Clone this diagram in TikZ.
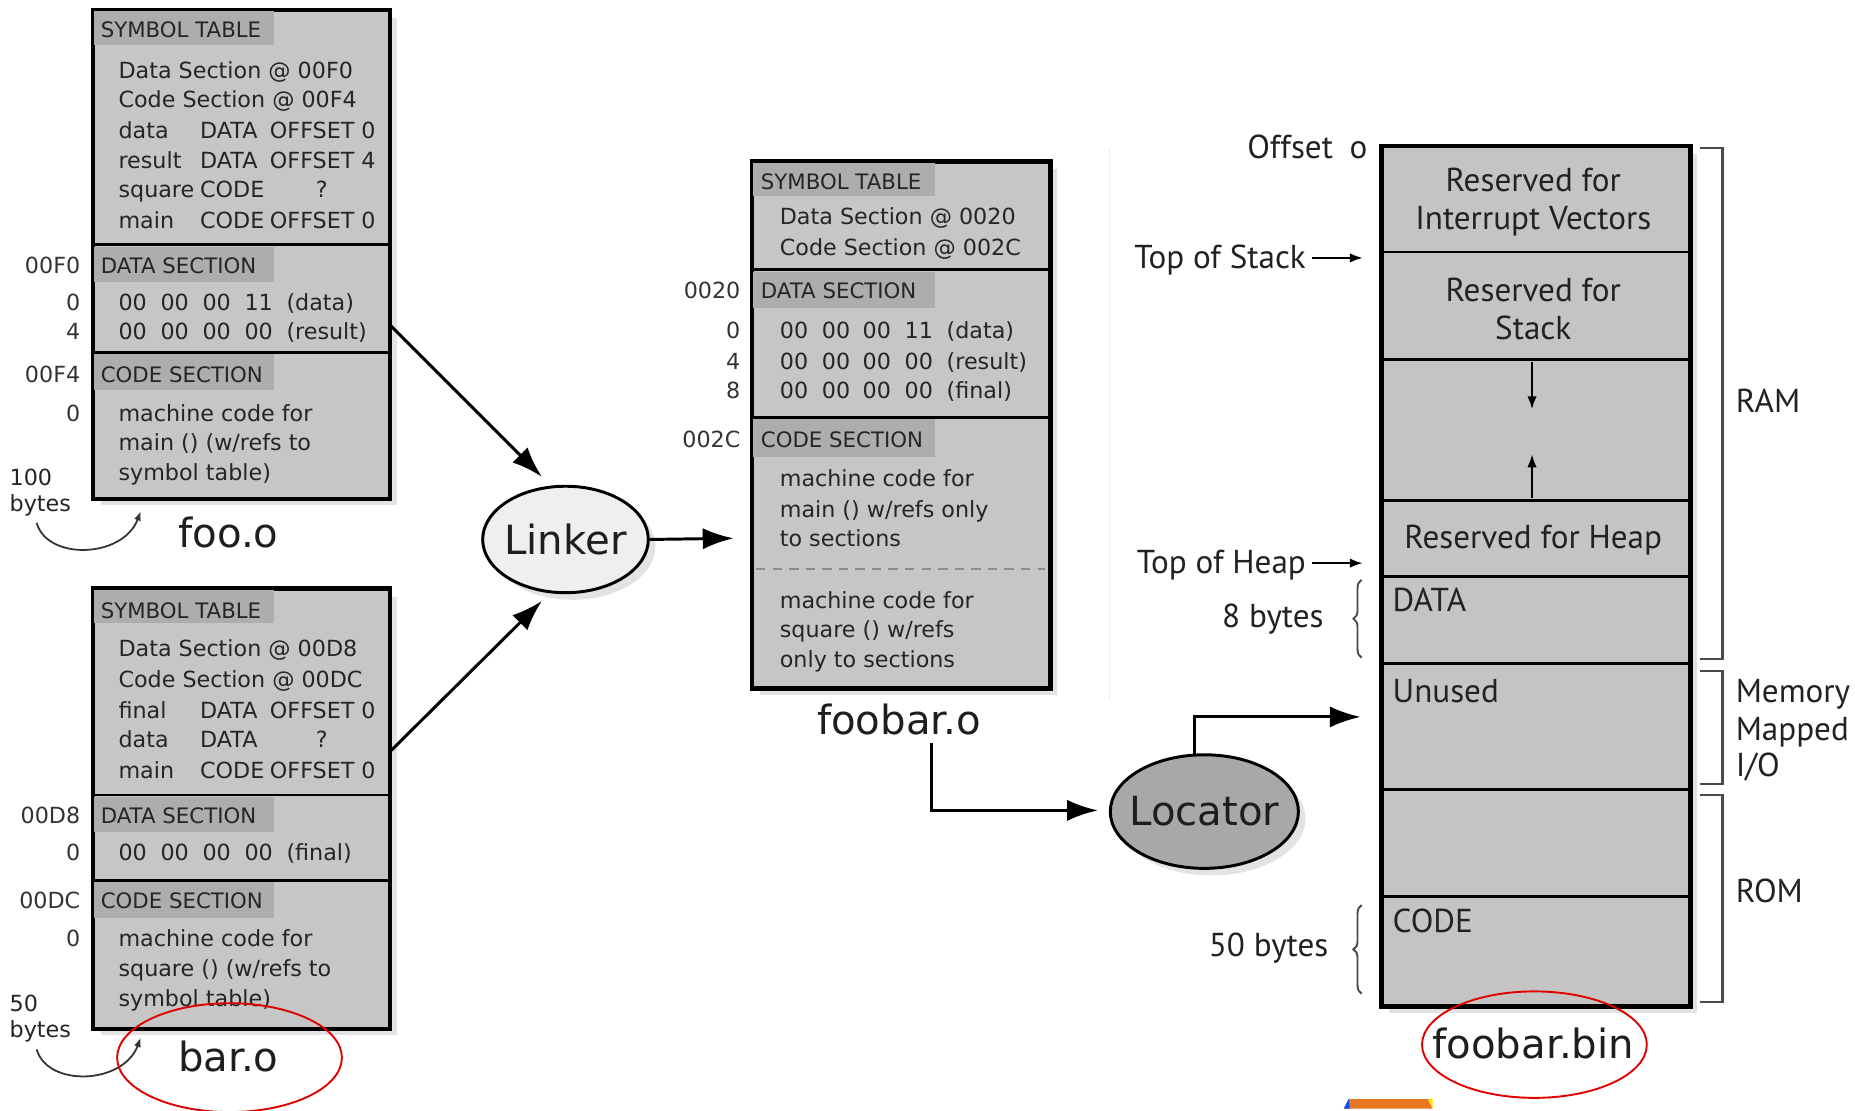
\documentclass[tikz,border=0pt]{standalone}
\usepackage{fontspec}
\setmainfont{DejaVu Sans}
\newfontfamily\ptsans{PT Sans}
\usetikzlibrary{shapes.geometric,arrows.meta,shadows,decorations.pathreplacing}
\definecolor{boxgray}{HTML}{C6C6C6}
\definecolor{bandgray}{HTML}{ADADAD}
\definecolor{bingray}{HTML}{C4C4C4}
\definecolor{linkfill}{HTML}{EFEFEF}
\definecolor{locfill}{HTML}{A8A8A8}
\definecolor{txtgray}{HTML}{252525}
\definecolor{lblgray}{HTML}{333333}
\definecolor{bigtxt}{HTML}{1E1E1E}
\definecolor{bintxt}{HTML}{222222}
\definecolor{curvegray}{HTML}{333333}
\definecolor{brgray}{HTML}{4A4A4A}
\definecolor{redmark}{HTML}{E00000}
\definecolor{orangebar}{HTML}{E87722}
\begin{document}
\begin{tikzpicture}[x=1pt,y=-1pt,
  objbox/.style={draw=black,line width=2.5pt,fill=boxgray,inner sep=0pt,anchor=north west,
    drop shadow={shadow xshift=6pt,shadow yshift=-6pt,opacity=0.22}},
  ellbox/.style={ellipse,draw=black,line width=2.5pt,inner sep=0pt,
    drop shadow={shadow xshift=6pt,shadow yshift=-6pt,opacity=0.22}},
  divline/.style={line width=2.5pt,draw=black},
  bandfill/.style={fill=bandgray},
  tx/.style={inner sep=0pt,anchor=west,yshift=-4.5pt,text height=0.72em,text depth=0.2em,text=txtgray,font=\fontsize{18.8}{22}\selectfont},
  hd/.style={tx,font=\fontsize{18}{21}\selectfont},
  lb/.style={tx,anchor=east,text=lblgray},
  biglbl/.style={inner sep=0pt,text=bigtxt,font=\fontsize{34}{40}\selectfont},
  bt/.style={inner sep=0pt,yshift=-6pt,text height=0.72em,text depth=0.2em,text=bintxt,font=\ptsans\fontsize{28}{32}\selectfont},
  arr/.style={line width=2.5pt,-{Latex[length=26pt,width=18pt]}},
  sarr/.style={line width=1.8pt,-{Latex[length=11pt,width=8pt]}},
  curv/.style={line width=1.5pt,draw=curvegray,-{Latex[length=8pt,width=6pt]}},
  bracket/.style={line width=1.8pt,draw=brgray},
  bracestyle/.style={line width=1.6pt,draw=brgray,decorate,decoration={brace,amplitude=7pt}},
  redring/.style={draw=redmark,line width=1.6pt,ellipse,inner sep=0pt},
]
\useasboundingbox (0,0) rectangle (1568,939);
\fill[white] (0,0) rectangle (1568,939);

% faint vertical line
\draw[black!8,line width=1pt] (938,125) -- (938,592);

%================ foo.o =================
\node[objbox,minimum width=250pt,minimum height=412pt] (foo) at (78,8) {};
\fill[bandfill] (79.5,9.5) rectangle (232,38);
\fill[bandfill] (79.5,208.5) rectangle (232,238);
\fill[bandfill] (79.5,299.5) rectangle (232,330);
\draw[divline] (78,207) -- (328,207) (78,298) -- (328,298);
\draw[divline] (foo.north west) rectangle (foo.south east);
\node[hd] (fooh1) at (85,25) {SYMBOL TABLE};
\node[tx] (foos1) at (100,59) {Data Section @ 00F0};
\node[tx] (foos2) at (100,84) {Code Section @ 00F4};
\node[tx] (foos3a) at (100,110) {data};   \node[tx] (foos3b) at (169,110) {DATA}; \node[tx] (foos3c) at (228,110) {OFFSET 0};
\node[tx] (foos4a) at (100,135) {result}; \node[tx] (foos4b) at (169,135) {DATA}; \node[tx] (foos4c) at (228,135) {OFFSET 4};
\node[tx] (foos5a) at (100,160) {square}; \node[tx] (foos5b) at (169,160) {CODE}; \node[tx,anchor=center] (foos5c) at (272,160) {?};
\node[tx] (foos6a) at (100,186) {main};   \node[tx] (foos6b) at (169,186) {CODE}; \node[tx] (foos6c) at (228,186) {OFFSET 0};
\node[hd] (fooh2) at (85,224) {DATA SECTION};
\node[tx] (food1a) at (100,255) {00}; \node[tx] (food1b) at (135.5,255) {00}; \node[tx] (food1c) at (171,255) {00}; \node[tx] (food1d) at (206.5,255) {11}; \node[tx] (food1e) at (242,255) {(data)};
\node[tx] (food2a) at (100,280) {00}; \node[tx] (food2b) at (135.5,280) {00}; \node[tx] (food2c) at (171,280) {00}; \node[tx] (food2d) at (206.5,280) {00}; \node[tx] (food2e) at (242,280) {(result)};
\node[hd] (fooh3) at (85,316) {CODE SECTION};
\node[tx] (fooc1) at (100,349) {machine code for};
\node[tx] (fooc2) at (100,374) {main () (w/refs to};
\node[tx] (fooc3) at (100,399) {symbol table)};
\node[lb] (fool1) at (68,224) {00F0};
\node[lb] (fool2) at (68,255) {0};
\node[lb] (fool3) at (68,280) {4};
\node[lb] (fool4) at (68,316) {00F4};
\node[lb] (fool5) at (68,349) {0};
\node[tx] (foosz1) at (8,403) {100};
\node[tx] (foosz2) at (8,425) {bytes};
\coordinate (foocs) at (31,442);
\coordinate (fooce) at (119,432);
\draw[curv] (foocs) .. controls (40,474) and (104,472) .. (fooce);
\node[biglbl] (foolbl) at (193,450) {foo.o};

%================ bar.o =================
\node[objbox,minimum width=250pt,minimum height=371pt] (bar) at (78,497) {};
\fill[bandfill] (79.5,498.5) rectangle (232,527);
\fill[bandfill] (79.5,673.5) rectangle (232,703);
\fill[bandfill] (79.5,745.5) rectangle (232,776);
\draw[divline] (78,672) -- (328,672) (78,744) -- (328,744);
\draw[divline] (bar.north west) rectangle (bar.south east);
\node[hd] (barh1) at (85,516) {SYMBOL TABLE};
\node[tx] (bars1) at (100,548) {Data Section @ 00D8};
\node[tx] (bars2) at (100,574) {Code Section @ 00DC};
\node[tx] (bars3a) at (100,600) {final}; \node[tx] (bars3b) at (169,600) {DATA}; \node[tx] (bars3c) at (228,600) {OFFSET 0};
\node[tx] (bars4a) at (100,625) {data};  \node[tx] (bars4b) at (169,625) {DATA}; \node[tx,anchor=center] (bars4c) at (272,625) {?};
\node[tx] (bars5a) at (100,651) {main};  \node[tx] (bars5b) at (169,651) {CODE}; \node[tx] (bars5c) at (228,651) {OFFSET 0};
\node[hd] (barh2) at (85,689) {DATA SECTION};
\node[tx] (bard1a) at (100,720) {00}; \node[tx] (bard1b) at (135.5,720) {00}; \node[tx] (bard1c) at (171,720) {00}; \node[tx] (bard1d) at (206.5,720) {00}; \node[tx] (bard1e) at (242,720) {(final)};
\node[hd] (barh3) at (85,761) {CODE SECTION};
\node[tx] (barc1) at (100,793) {machine code for};
\node[tx] (barc2) at (100,818) {square () (w/refs to};
\node[tx] (barc3) at (100,844) {symbol table)};
\node[lb] (barl1) at (68,689) {00D8};
\node[lb] (barl2) at (68,720) {0};
\node[lb] (barl3) at (68,761) {00DC};
\node[lb] (barl4) at (68,793) {0};
\node[tx] (barsz1) at (8,848) {50};
\node[tx] (barsz2) at (8,870) {bytes};
\coordinate (barcs) at (31,887);
\coordinate (barce) at (119,877);
\draw[curv] (barcs) .. controls (40,919) and (104,917) .. (barce);
\node[biglbl] (barlbl) at (193,893) {bar.o};
\node[redring,minimum width=190pt,minimum height=92pt] (barring) at (194,894) {};

%================ Linker =================
\node[ellbox,fill=linkfill,minimum width=140pt,minimum height=90pt] (linker) at (478,456) {};
\node[biglbl] (linkertxt) at (linker.center) {Linker};
\coordinate (fooout) at (330,275);
\coordinate (barout) at (330,635);
\coordinate (linkin1) at (458,403);
\coordinate (linkin2) at (458,508);
\coordinate (fbin) at (620,455);
\draw[arr] (fooout) -- (linkin1);
\draw[arr] (barout) -- (linkin2);
\draw[arr] (linker.east) -- (fbin);

%================ foobar.o =================
\node[objbox,minimum width=251pt,minimum height=444pt] (fbo) at (635,136) {};
\fill[bandfill] (636.5,137.5) rectangle (790,166);
\fill[bandfill] (636.5,229.5) rectangle (790,260);
\fill[bandfill] (636.5,354.5) rectangle (790,386);
\draw[divline] (635,228) -- (886,228) (635,353) -- (886,353);
\draw[black!45,line width=1.5pt,dash pattern=on 8pt off 6pt] (639,481) -- (883,481);
\draw[divline] (fbo.north west) rectangle (fbo.south east);
\node[hd] (fboh1) at (643,153) {SYMBOL TABLE};
\node[tx] (fbos1) at (659,183) {Data Section @ 0020};
\node[tx] (fbos2) at (659,209) {Code Section @ 002C};
\node[hd] (fboh2) at (643,245) {DATA SECTION};
\node[tx] (fbod1a) at (659,279) {00}; \node[tx] (fbod1b) at (694.5,279) {00}; \node[tx] (fbod1c) at (729,279) {00}; \node[tx] (fbod1d) at (764.5,279) {11}; \node[tx] (fbod1e) at (800,279) {(data)};
\node[tx] (fbod2a) at (659,305) {00}; \node[tx] (fbod2b) at (694.5,305) {00}; \node[tx] (fbod2c) at (729,305) {00}; \node[tx] (fbod2d) at (764.5,305) {00}; \node[tx] (fbod2e) at (800,305) {(result)};
\node[tx] (fbod3a) at (659,330) {00}; \node[tx] (fbod3b) at (694.5,330) {00}; \node[tx] (fbod3c) at (729,330) {00}; \node[tx] (fbod3d) at (764.5,330) {00}; \node[tx] (fbod3e) at (800,330) {(final)};
\node[hd] (fboh3) at (643,371) {CODE SECTION};
\node[tx] (fboc1) at (659,404) {machine code for};
\node[tx] (fboc2) at (659,430) {main () w/refs only};
\node[tx] (fboc3) at (659,455) {to sections};
\node[tx] (fboc4) at (659,507) {machine code for};
\node[tx] (fboc5) at (659,532) {square () w/refs};
\node[tx] (fboc6) at (659,557) {only to sections};
\node[lb] (fbol1) at (626,245) {0020};
\node[lb] (fbol2) at (626,279) {0};
\node[lb] (fbol3) at (626,305) {4};
\node[lb] (fbol4) at (626,330) {8};
\node[lb] (fbol5) at (626,371) {002C};
\node[biglbl] (fbolbl) at (760,608) {foobar.o};

%================ Locator =================
\node[ellbox,fill=locfill,minimum width=159pt,minimum height=96pt] (locator) at (1018,686) {};
\node[biglbl] (locatortxt) at (locator.center) {Locator};
\coordinate (fbodown) at (787,628);
\coordinate (locin) at (928,685);
\coordinate (locup) at (1010,638);
\coordinate (binin) at (1150,606);
\draw[arr] (fbodown) |- (locin);
\draw[arr] (locup) |- (binin);

%================ foobar.bin =================
\node[objbox,fill=bingray,minimum width=260pt,minimum height=726pt] (bin) at (1167,123) {};
\draw[divline] (1167,213) -- (1427,213) (1167,304) -- (1427,304) (1167,423) -- (1427,423)
  (1167,487) -- (1427,487) (1167,561) -- (1427,561) (1167,667) -- (1427,667) (1167,758) -- (1427,758);
\draw[divline] (bin.north west) rectangle (bin.south east);
\node[bt] (bin1a) at (1296,153) {Reserved for};
\node[bt] (bin1b) at (1296,185) {Interrupt Vectors};
\node[bt] (bin2a) at (1296,246) {Reserved for};
\node[bt] (bin2b) at (1296,278) {Stack};
\coordinate (stk1) at (1295,306);
\coordinate (stk2) at (1295,346);
\coordinate (hp1) at (1295,421);
\coordinate (hp2) at (1295,384);
\draw[sarr] (stk1) -- (stk2);
\draw[sarr] (hp1) -- (hp2);
\node[bt] (bin3) at (1296,455) {Reserved for Heap};
\node[bt,anchor=west] (bin4) at (1177,508) {DATA};
\node[bt,anchor=west] (bin5) at (1177,585) {Unused};
\node[bt,anchor=west] (bin6) at (1177,780) {CODE};
\node[bt,anchor=east] (offs) at (1156,125) {Offset\hspace{14pt}o};
\node[bt,anchor=east] (tos) at (1104,218) {Top of Stack};
\node[bt,anchor=east] (toh) at (1104,476) {Top of Heap};
\coordinate (tosstart) at (1109,218);
\coordinate (tohstart) at (1109,476);
\coordinate (tosend) at (1152,218);
\coordinate (tohend) at (1152,476);
\draw[sarr] (tosstart) -- (tosend);
\draw[sarr] (tohstart) -- (tohend);
\node[bt,anchor=east] (b8) at (1119,522) {8 bytes};
\node[bt,anchor=east] (b50) at (1123,800) {50 bytes};
\draw[bracestyle] (1151,556) -- (1151,490);
\draw[bracestyle] (1151,840) -- (1151,765);
\draw[bracket] (1437,125) -- (1456,125) -- (1456,557) -- (1437,557);
\draw[bracket] (1437,567) -- (1456,567) -- (1456,663) -- (1437,663);
\draw[bracket] (1437,672) -- (1456,672) -- (1456,847) -- (1437,847);
\node[bt,anchor=west] (ram) at (1467,340) {RAM};
\node[bt,anchor=west] (mm1) at (1467,585) {Memory};
\node[bt,anchor=west] (mm2) at (1467,617) {Mapped};
\node[bt,anchor=west] (mm3) at (1467,648) {I/O};
\node[bt,anchor=west] (rom) at (1467,754) {ROM};
\node[biglbl] (binlbl) at (1296,882) {foobar.bin};
\node[redring,minimum width=190pt,minimum height=90pt] (binring) at (1297,883) {};

% orange mark at bottom
\fill[orangebar] (1140,929) -- (1207,929) -- (1211,937) -- (1136,937) -- cycle;
\fill[blue!70!cyan] (1136,937) -- (1140,929) -- (1141,937) -- cycle;
\fill[yellow!90!orange] (1207,929) -- (1211,929) -- (1211,937) -- cycle;
\end{tikzpicture}
\end{document}
